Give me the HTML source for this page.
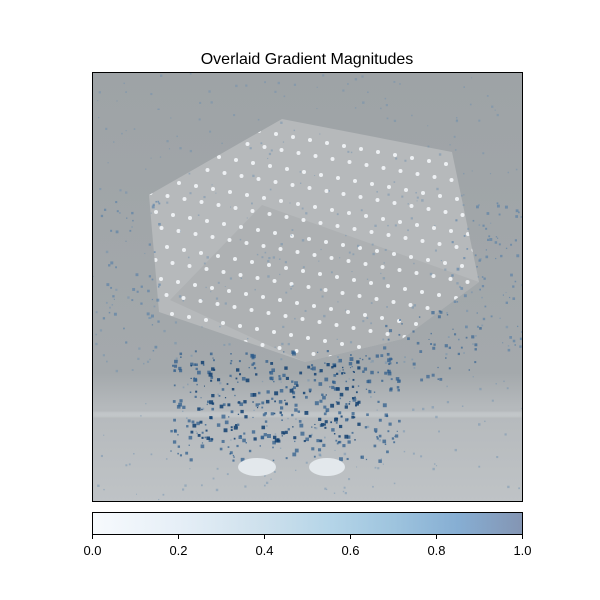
<!DOCTYPE html>
<html><head><meta charset="utf-8">
<style>
body{margin:0;background:#fff;}
svg{display:block;font-family:"Liberation Sans","DejaVu Sans",sans-serif;}
</style></head>
<body>
<svg id="chart" width="600" height="600" viewBox="0 0 600 600">
<defs>
<linearGradient id="cbGrad" x1="0" x2="1" y1="0" y2="0">
<stop offset="0" stop-color="#f7fafd"/>
<stop offset="0.2" stop-color="#e6eff7"/>
<stop offset="0.4" stop-color="#cde0ec"/>
<stop offset="0.55" stop-color="#b5d5e8"/>
<stop offset="0.7" stop-color="#9ec4de"/>
<stop offset="0.85" stop-color="#86aed3"/>
<stop offset="1" stop-color="#8495b3"/>
</linearGradient>
<linearGradient id="bgGrad" x1="0" x2="0" y1="0" y2="1">
<stop offset="0" stop-color="#9ea3a6"/>
<stop offset="0.7" stop-color="#a4a9ac"/>
<stop offset="0.78" stop-color="#b5b9bc"/>
<stop offset="1" stop-color="#bfc3c6"/>
</linearGradient>
<clipPath id="imgClip"><rect x="92" y="72" width="431" height="430"/></clipPath>
<clipPath id="umbClip"><polygon points="149,195 282,119 452,152 479,282 402,339 305,362 159,312"/></clipPath>
<filter id="blur2"><feGaussianBlur stdDeviation="2"/></filter>
</defs>
<text x="307" y="64" text-anchor="middle" font-size="16" fill="#000">Overlaid Gradient Magnitudes</text>
<g clip-path="url(#imgClip)">
<rect x="92" y="72" width="431" height="430" fill="url(#bgGrad)"/>
<rect x="92" y="412" width="431" height="5" fill="#c6cacc" filter="url(#blur2)"/>
<g id="umbrella">
<polygon points="149,195 282,119 452,152 479,282 402,339 305,362 159,312" fill="#b6b9bb"/>
<polygon points="262,205 479,282 402,339 305,362 170,300" fill="#aeb1b3"/>
<g id="dots" clip-path="url(#umbClip)"></g>
</g>
<g id="speckles"></g>
<ellipse cx="257" cy="467" rx="19" ry="9" fill="#e3e8ec"/>
<ellipse cx="327" cy="467" rx="18" ry="9" fill="#e3e8ec"/>
</g>
<rect x="92.5" y="72.5" width="430" height="429" fill="none" stroke="#000" stroke-width="1"/>
<rect x="92.5" y="512.5" width="430" height="22" fill="url(#cbGrad)" stroke="#000" stroke-width="1"/>
<g id="cbTicks"></g>
</svg>
<script>
const cbTickValues = [0, 0.2, 0.4, 0.6, 0.8, 1.0];
const cbTickLabels = ["0.0", "0.2", "0.4", "0.6", "0.8", "1.0"];
const cbMin = 0, cbMax = 1;
const NS = "http://www.w3.org/2000/svg";
function xCb(v){ return 92.5 + (v - cbMin) / (cbMax - cbMin) * 430; }
const tg = document.getElementById('cbTicks');
cbTickValues.forEach((v,i)=>{
  const l = document.createElementNS(NS,'line');
  l.setAttribute('x1',xCb(v)); l.setAttribute('x2',xCb(v));
  l.setAttribute('y1',535); l.setAttribute('y2',539);
  l.setAttribute('stroke','#000');
  
  
  tg.appendChild(l);
  const t = document.createElementNS(NS,'text');
  t.setAttribute('x',xCb(v)); t.setAttribute('y',555);
  t.setAttribute('text-anchor','middle'); t.setAttribute('font-size','13');
  t.textContent = cbTickLabels[i];
  
  
  tg.appendChild(t);
});
const dg = document.getElementById('dots');
for(let r=0;r<17;r++){ for(let c=0;c<24;c++){
  const x = 140 + c*17 + (r%2)*8.5 - r*3, y = 110 + r*16 + c*3;
  const e = document.createElementNS(NS,'circle');
  e.setAttribute('cx',x); e.setAttribute('cy',y); e.setAttribute('r',2);
  e.setAttribute('fill','#edf0f3');
  
  
  dg.appendChild(e);
}}
let s = 12345;
function rnd(){ s = (s*1103515245 + 12345) % 2147483648; return s/2147483648; }
const sg = document.getElementById('speckles');
function speck(n, x0,y0,w,h, col, rmax, op){
  for(let i=0;i<n;i++){
    const e = document.createElementNS(NS,'rect');
    const sz = 1 + rnd()*rmax;
    e.setAttribute('x', x0 + rnd()*w); e.setAttribute('y', y0 + rnd()*h);
    e.setAttribute('width', sz); e.setAttribute('height', sz);
    e.setAttribute('fill', col); e.setAttribute('opacity', op);
    
    
    sg.appendChild(e);
  }
}
speck(400, 92,72,431,430, '#6a8fb0', 1.5, 0.45);
speck(300, 170,350,230,110, '#2a5a8a', 3, 0.7);
speck(130, 190,360,170,80, '#123f70', 3, 0.85);
speck(70, 450,200,73,150, '#4a78a5', 2, 0.55);
speck(50, 100,200,60,150, '#4a78a5', 2, 0.55);
speck(50, 380,310,100,70, '#2f5f90', 2.5, 0.65);
</script>
</body></html>
